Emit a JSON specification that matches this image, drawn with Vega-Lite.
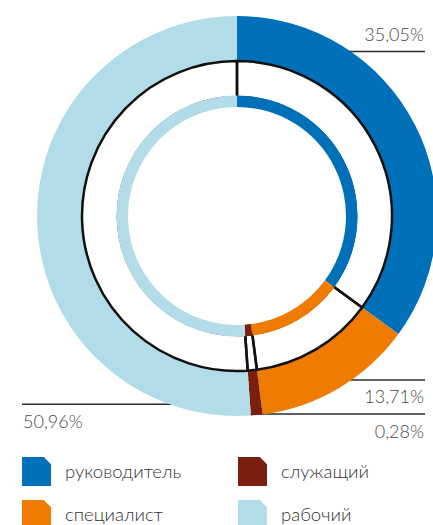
{
  "$schema": "https://vega.github.io/schema/vega-lite/v6.json",
  "autosize": "none",
  "width": 392,
  "height": 400,
  "padding": {"left": 41, "top": 16, "right": 0, "bottom": 109},
  "background": "white",
  "data": {
    "values": [
      {"category": "руководитель", "share": 35.05, "label": "35,05%", "order": 1},
      {"category": "специалист", "share": 12.9, "label": "13,71%", "order": 2},
      {"category": "служащий", "share": 0.95, "label": "0,28%", "order": 3},
      {"category": "рабочий", "share": 51.1, "label": "50,96%", "order": 4}
    ]
  },
  "layer": [
    {
      "transform": [{"filter": {"field": "category", "equal": "руководитель"}}],
      "mark": {"type": "rule", "color": "#2b2b2b", "strokeWidth": 1.6},
      "encoding": {
        "x": {"datum": 0, "type": "quantitative", "scale": {"domain": [-0.98, 0.98], "nice": false, "zero": false}, "axis": null},
        "x2": {"datum": 0.94},
        "y": {"datum": 0.8225, "type": "quantitative", "scale": {"domain": [-1, 1], "nice": false, "zero": false}, "axis": null}
      }
    },
    {
      "transform": [{"filter": {"field": "category", "equal": "специалист"}}],
      "mark": {"type": "rule", "color": "#2b2b2b", "strokeWidth": 1.6},
      "encoding": {
        "x": {"datum": 0, "type": "quantitative", "scale": {"domain": [-0.98, 0.98], "nice": false, "zero": false}, "axis": null},
        "x2": {"datum": 0.94},
        "y": {"datum": -0.82, "type": "quantitative", "scale": {"domain": [-1, 1], "nice": false, "zero": false}, "axis": null}
      }
    },
    {
      "transform": [{"filter": {"field": "category", "equal": "служащий"}}],
      "mark": {"type": "rule", "color": "#2b2b2b", "strokeWidth": 1.6},
      "encoding": {
        "x": {"datum": 0, "type": "quantitative", "scale": {"domain": [-0.98, 0.98], "nice": false, "zero": false}, "axis": null},
        "x2": {"datum": 0.94},
        "y": {"datum": -0.99, "type": "quantitative", "scale": {"domain": [-1, 1], "nice": false, "zero": false}, "axis": null}
      }
    },
    {
      "transform": [{"filter": {"field": "category", "equal": "рабочий"}}],
      "mark": {"type": "rule", "color": "#2b2b2b", "strokeWidth": 1.6},
      "encoding": {
        "x": {"datum": -1.075, "type": "quantitative", "scale": {"domain": [-0.98, 0.98], "nice": false, "zero": false}, "axis": null},
        "x2": {"datum": 0},
        "y": {"datum": -0.9415, "type": "quantitative", "scale": {"domain": [-1, 1], "nice": false, "zero": false}, "axis": null}
      }
    },
    {
      "mark": {"type": "arc", "innerRadius": 155, "outerRadius": 200},
      "encoding": {
        "theta": {"field": "share", "type": "quantitative", "stack": true},
        "order": {"field": "order", "type": "quantitative", "sort": "ascending"},
        "color": {
          "field": "category",
          "type": "nominal",
          "scale": {
            "domain": ["руководитель", "специалист", "служащий", "рабочий"],
            "range": ["#0070b9", "#ef7b00", "#7a1f0f", "#b2dde8"]
          },
          "legend": {
            "orient": "none",
            "legendX": -19,
            "legendY": 441,
            "title": null,
            "columns": 2,
            "padding": 0,
            "symbolType": "M-1,-1H0.5L1,-0.5V1H-1Z",
            "symbolSize": 841,
            "symbolStrokeWidth": 0,
            "symbolOpacity": 1,
            "labelFontSize": 18.5,
            "labelFont": "Lato",
            "labelFontWeight": 300,
            "labelColor": "#333333",
            "labelOffset": 14,
            "rowPadding": 14,
            "columnPadding": 56
          }
        }
      }
    },
    {
      "mark": {"type": "arc", "innerRadius": 119, "outerRadius": 155, "fillOpacity": 0, "stroke": "#111111", "strokeWidth": 2.5},
      "encoding": {
        "theta": {"field": "share", "type": "quantitative", "stack": true},
        "order": {"field": "order", "type": "quantitative", "sort": "ascending"}
      }
    },
    {
      "mark": {"type": "arc", "innerRadius": 109, "outerRadius": 120.5},
      "encoding": {
        "theta": {"field": "share", "type": "quantitative", "stack": true},
        "order": {"field": "order", "type": "quantitative", "sort": "ascending"},
        "color": {"field": "category", "type": "nominal"}
      }
    },
    {
      "transform": [{"filter": {"field": "category", "equal": "руководитель"}}],
      "mark": {"type": "text", "align": "right", "baseline": "alphabetic", "font": "Lato", "fontWeight": 300, "fontSize": 18, "color": "#4a4a4a"},
      "encoding": {
        "x": {"datum": 0.935, "type": "quantitative", "scale": {"domain": [-0.98, 0.98], "nice": false, "zero": false}, "axis": null},
        "y": {"datum": 0.875, "type": "quantitative", "scale": {"domain": [-1, 1], "nice": false, "zero": false}, "axis": null},
        "text": {"field": "label"}
      }
    },
    {
      "transform": [{"filter": {"field": "category", "equal": "специалист"}}],
      "mark": {"type": "text", "align": "right", "baseline": "alphabetic", "font": "Lato", "fontWeight": 300, "fontSize": 18, "color": "#4a4a4a"},
      "encoding": {
        "x": {"datum": 0.935, "type": "quantitative", "scale": {"domain": [-0.98, 0.98], "nice": false, "zero": false}, "axis": null},
        "y": {"datum": -0.9365, "type": "quantitative", "scale": {"domain": [-1, 1], "nice": false, "zero": false}, "axis": null},
        "text": {"field": "label"}
      }
    },
    {
      "transform": [{"filter": {"field": "category", "equal": "служащий"}}],
      "mark": {"type": "text", "align": "right", "baseline": "alphabetic", "font": "Lato", "fontWeight": 300, "fontSize": 18, "color": "#4a4a4a"},
      "encoding": {
        "x": {"datum": 0.935, "type": "quantitative", "scale": {"domain": [-0.98, 0.98], "nice": false, "zero": false}, "axis": null},
        "y": {"datum": -1.1115, "type": "quantitative", "scale": {"domain": [-1, 1], "nice": false, "zero": false}, "axis": null},
        "text": {"field": "label"}
      }
    },
    {
      "transform": [{"filter": {"field": "category", "equal": "рабочий"}}],
      "mark": {"type": "text", "align": "left", "baseline": "alphabetic", "font": "Lato", "fontWeight": 300, "fontSize": 18, "color": "#4a4a4a"},
      "encoding": {
        "x": {"datum": -1.07, "type": "quantitative", "scale": {"domain": [-0.98, 0.98], "nice": false, "zero": false}, "axis": null},
        "y": {"datum": -1.0615, "type": "quantitative", "scale": {"domain": [-1, 1], "nice": false, "zero": false}, "axis": null},
        "text": {"field": "label"}
      }
    }
  ],
  "config": {"view": {"stroke": null}}
}
